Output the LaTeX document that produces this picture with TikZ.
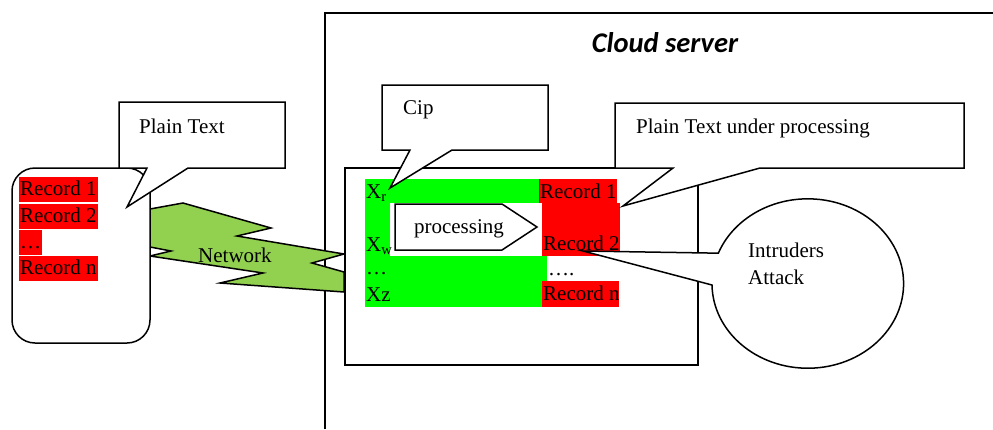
\documentclass[tikz,border=0pt]{standalone}
\usepackage{fontspec}
\setmainfont{Liberation Serif}
\newfontfamily\cloudfont{Carlito}
\definecolor{netgreen}{HTML}{92D050}
\begin{document}
\begin{tikzpicture}[x=1pt, y=1pt,
  line/.style={draw=black, line width=1.5pt, line join=miter},
  bubble/.style={line, fill=white},
  txt/.style={anchor=base west, inner sep=0pt, font=\fontsize{21}{25}\selectfont},
  rec/.style={txt, fill=red, inner xsep=1pt, inner ysep=0.5pt, text height=18pt, text depth=6pt}]
\useasboundingbox (0,0) rectangle (993,-429);
% cloud server frame
\draw[line] (325,-429) -- (325,-13) -- (993,-13);
\node[anchor=base, inner sep=0pt, font=\cloudfont\bfseries\itshape\fontsize{28.5}{33}\selectfont] (cloud) at (665,-52) {Cloud server};
% network
\draw[line, fill=netgreen] (150,-209) -- (183,-203) -- (271,-228) -- (237,-236) -- (344,-254) -- (312,-263) -- (344,-272) -- (344,-292) -- (220,-283) -- (263,-273) -- (150,-256) -- (171,-251) -- (150,-247) -- cycle;
\node[txt] (net) at (198,-262) {Network};
% client side
\draw[bubble, rounded corners=23pt] (12,-168) rectangle (150,-343);
\node[rec] (r1) at (19,-195) {Record 1};
\node[rec] (r2) at (19,-222) {Record 2};
\node[rec] (rdots) at (19,-248) {…};
\node[rec] (rn) at (19,-274) {Record n};
\draw[bubble] (119,-102) -- (285,-102) -- (285,-168) -- (188,-168) -- (127,-207) -- (147,-168) -- (119,-168) -- cycle;
\node[txt] (plain) at (139,-133) {Plain Text};
% server side
\draw[bubble] (345,-168) rectangle (698,-365);
\fill[green] (365,-179) rectangle (539,-203);
\fill[green] (365,-203) rectangle (390,-256);
\fill[green] (365,-256) rectangle (547,-281);
\fill[green] (365,-281) rectangle (542,-307);
\fill[red] (539,-179) rectangle (617,-203);
\fill[red] (542,-203) rectangle (620,-256);
\fill[red] (542,-281) rectangle (619,-307);
\node[txt] (xr) at (366,-198) {X\textsubscript{r}};
\node[txt] (xw) at (366,-251) {X\textsubscript{w}};
\node[txt] (xdots) at (366,-274) {…};
\node[txt] (xz) at (366,-301) {Xz};
\node[txt] (s1) at (540,-198) {Record 1};
\node[txt] (s2) at (543,-250) {Record 2};
\node[txt] (sdots) at (548,-275) {….};
\node[txt] (sn) at (543,-300) {Record n};
\draw[bubble] (395,-204) -- (502,-204) -- (537,-227) -- (502,-250) -- (395,-250) -- cycle;
\node[txt, anchor=base] (proc) at (459,-233) {processing};
\draw[bubble] (382,-85) -- (548,-85) -- (548,-150) -- (452,-150) -- (390,-188) -- (410,-150) -- (382,-150) -- cycle;
\node[txt] (cip) at (403,-114) {Cip};
\draw[bubble] (615,-103) -- (964,-103) -- (964,-168) -- (760,-168) -- (623,-206) -- (673,-168) -- (615,-168) -- cycle;
\node[txt] (under) at (636,-133) {Plain Text under processing};
% intruders
\draw[bubble] (583,-251) -- (712,-285) arc[start angle=181, end angle=519, x radius=95.8, y radius=84.7] -- cycle;
\node[txt] (intr) at (748,-257) {Intruders};
\node[txt] (att) at (748,-284) {Attack};
\end{tikzpicture}
\end{document}
